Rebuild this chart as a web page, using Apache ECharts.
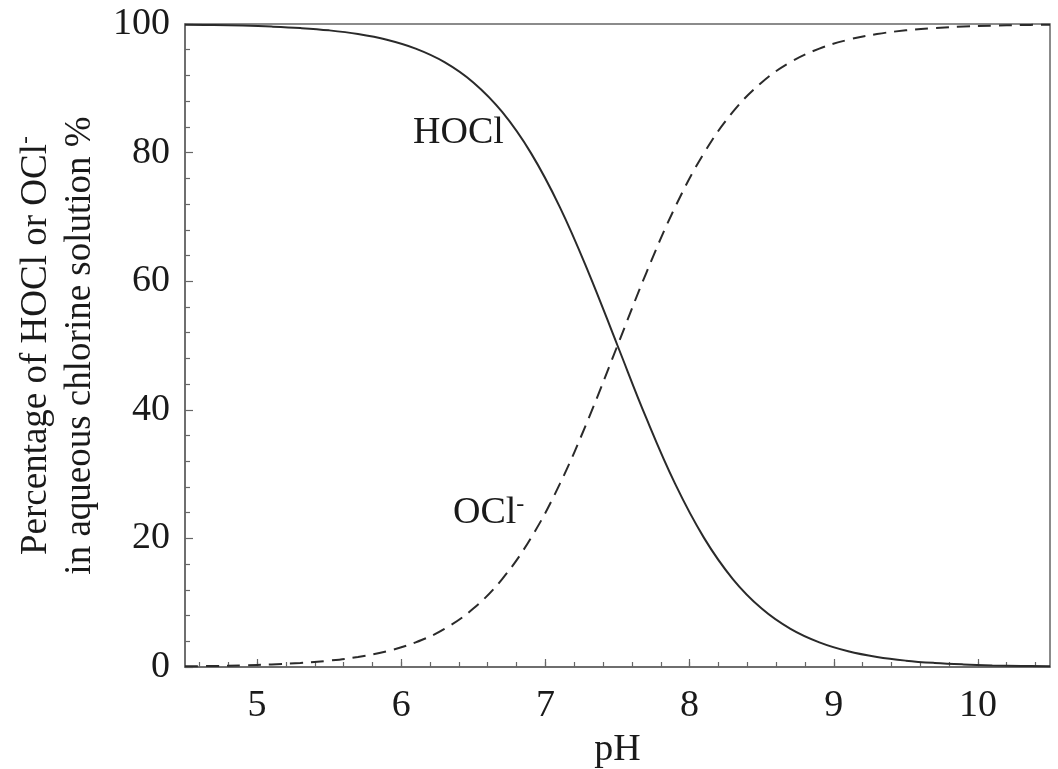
<!DOCTYPE html>
<html>
<head>
<meta charset="utf-8">
<script src="https://cdn.jsdelivr.net/npm/echarts@6/dist/echarts.min.js"></script>
<style>
html,body{margin:0;padding:0;background:#fff;}
#chart{width:1058px;height:769px;}
</style>
</head>
<body>
<div id="chart"></div>
<script>
// pH sample points
var pH = [4.5,4.7,4.9,5.1,5.3,5.5,5.7,5.9,6.1,6.3,6.5,6.7,6.9,7.1,7.3,7.5,7.7,7.9,8.1,8.3,8.5,8.7,8.9,9.1,9.3,9.5,9.7,9.9,10.1,10.3,10.5];
// Percentage of HOCl (solid curve)
var hocl = [99.9,99.84,99.75,99.6,99.37,99.01,98.44,97.55,96.17,94.07,90.91,86.32,79.92,71.53,61.31,50,38.69,28.47,20.08,13.68,9.09,5.93,3.83,2.45,1.56,0.99,0.63,0.4,0.25,0.16,0.1];
// Percentage of OCl- (dashed curve)
var ocl = [0.1,0.16,0.25,0.4,0.63,0.99,1.56,2.45,3.83,5.93,9.09,13.68,20.08,28.47,38.69,50,61.31,71.53,79.92,86.32,90.91,94.07,96.17,97.55,98.44,99.01,99.37,99.6,99.75,99.84,99.9];
// Axis ticks
var xMajorTicks = [5,6,7,8,9,10];
var xMinorTicks = [4.6,4.8,5,5.2,5.4,5.6,5.8,6,6.2,6.4,6.6,6.8,7,7.2,7.4,7.6,7.8,8,8.2,8.4,8.6,8.8,9,9.2,9.4,9.6,9.8,10,10.2,10.4];
var yTicks = [0,20,40,60,80,100];
// Curve labels
var curveLabels = [
  {name: 'HOCl', x: 6.4, y: 82.9},
  {name: 'OCl-', x: 6.61, y: 23.9}
];

var serif = 'Liberation Serif';
var txtColor = '#1a1a1a';
var axisColor = '#666';

function pairs(xs, ys) { return xs.map(function (x, i) { return [x, ys[i]]; }); }

var chart = echarts.init(document.getElementById('chart'), null, {renderer: 'canvas'});
chart.setOption({
  backgroundColor: '#fff',
  animation: false,
  grid: {left: 185, right: 8, top: 24, bottom: 102, containLabel: false, outerBoundsMode: 'none',
         show: true, borderColor: axisColor, borderWidth: 1.5, backgroundColor: 'transparent'},
  xAxis: [{
    type: 'value', min: 4.5, max: 10.5,
    name: 'pH', nameLocation: 'middle', nameGap: 64,
    nameTextStyle: {fontFamily: serif, fontSize: 38, color: txtColor},
    axisLine: {show: true, lineStyle: {color: axisColor, width: 1.5}},
    axisTick: {show: true, inside: true, length: 8, customValues: xMajorTicks, lineStyle: {color: axisColor, width: 1.2}},
    axisLabel: {customValues: xMajorTicks, margin: 20, fontFamily: serif, fontSize: 38, color: txtColor},
    splitLine: {show: false}
  }, {
    type: 'value', min: 4.5, max: 10.5, position: 'bottom',
    axisLine: {show: false},
    axisTick: {show: true, inside: true, length: 5, customValues: xMinorTicks, lineStyle: {color: axisColor, width: 1.2}},
    axisLabel: {show: false},
    splitLine: {show: false}
  }],
  yAxis: {
    type: 'value', min: 0, max: 100, interval: 20,
    name: '{a|Percentage of HOCl or OCl}{s|-}\n{a|in aqueous chlorine solution %}',
    nameLocation: 'middle', nameRotate: 90, nameGap: 81,
    nameTextStyle: {
      fontFamily: serif, fontSize: 37, color: txtColor, lineHeight: 44, align: 'center',
      rich: {
        a: {fontFamily: serif, fontSize: 37, color: txtColor, lineHeight: 44},
        s: {fontFamily: serif, fontSize: 24, color: txtColor, verticalAlign: 'top', lineHeight: 44}
      }
    },
    axisLine: {show: true, lineStyle: {color: axisColor, width: 1.5}},
    axisTick: {show: true, inside: true, length: 8, lineStyle: {color: axisColor, width: 1.2}},
    minorTick: {show: true, splitNumber: 5, length: 5, lineStyle: {color: axisColor, width: 1.2}},
    axisLabel: {margin: 15, fontFamily: serif, fontSize: 38, color: txtColor},
    splitLine: {show: false}
  },
  series: [{
    name: 'HOCl', type: 'line', data: pairs(pH, hocl), smooth: 0.4,
    showSymbol: false, symbol: 'none',
    lineStyle: {color: '#2a2a2a', width: 2, type: 'solid'}
  }, {
    name: 'OCl-', type: 'line', data: pairs(pH, ocl), smooth: 0.4,
    showSymbol: false, symbol: 'none',
    lineStyle: {color: '#2a2a2a', width: 2, type: [13, 8]}
  }, {
    type: 'scatter', symbolSize: 1, silent: true,
    itemStyle: {color: '#ffffff', opacity: 1},
    data: curveLabels.map(function (d) { return {name: d.name, value: [d.x, d.y]}; }),
    label: {
      show: true, position: [0, 0], align: 'center', verticalAlign: 'middle',
      color: txtColor, textBorderWidth: 0, opacity: 1,
      formatter: function (p) {
        return p.name === 'OCl-' ? '{a|OCl}{s|-}' : '{a|' + p.name + '}';
      },
      rich: {
        a: {fontFamily: serif, fontSize: 38, color: txtColor, lineHeight: 40, textBorderWidth: 0},
        s: {fontFamily: serif, fontSize: 24, color: txtColor, verticalAlign: 'top', lineHeight: 40, textBorderWidth: 0}
      }
    }
  }]
});
</script>
</body>
</html>
